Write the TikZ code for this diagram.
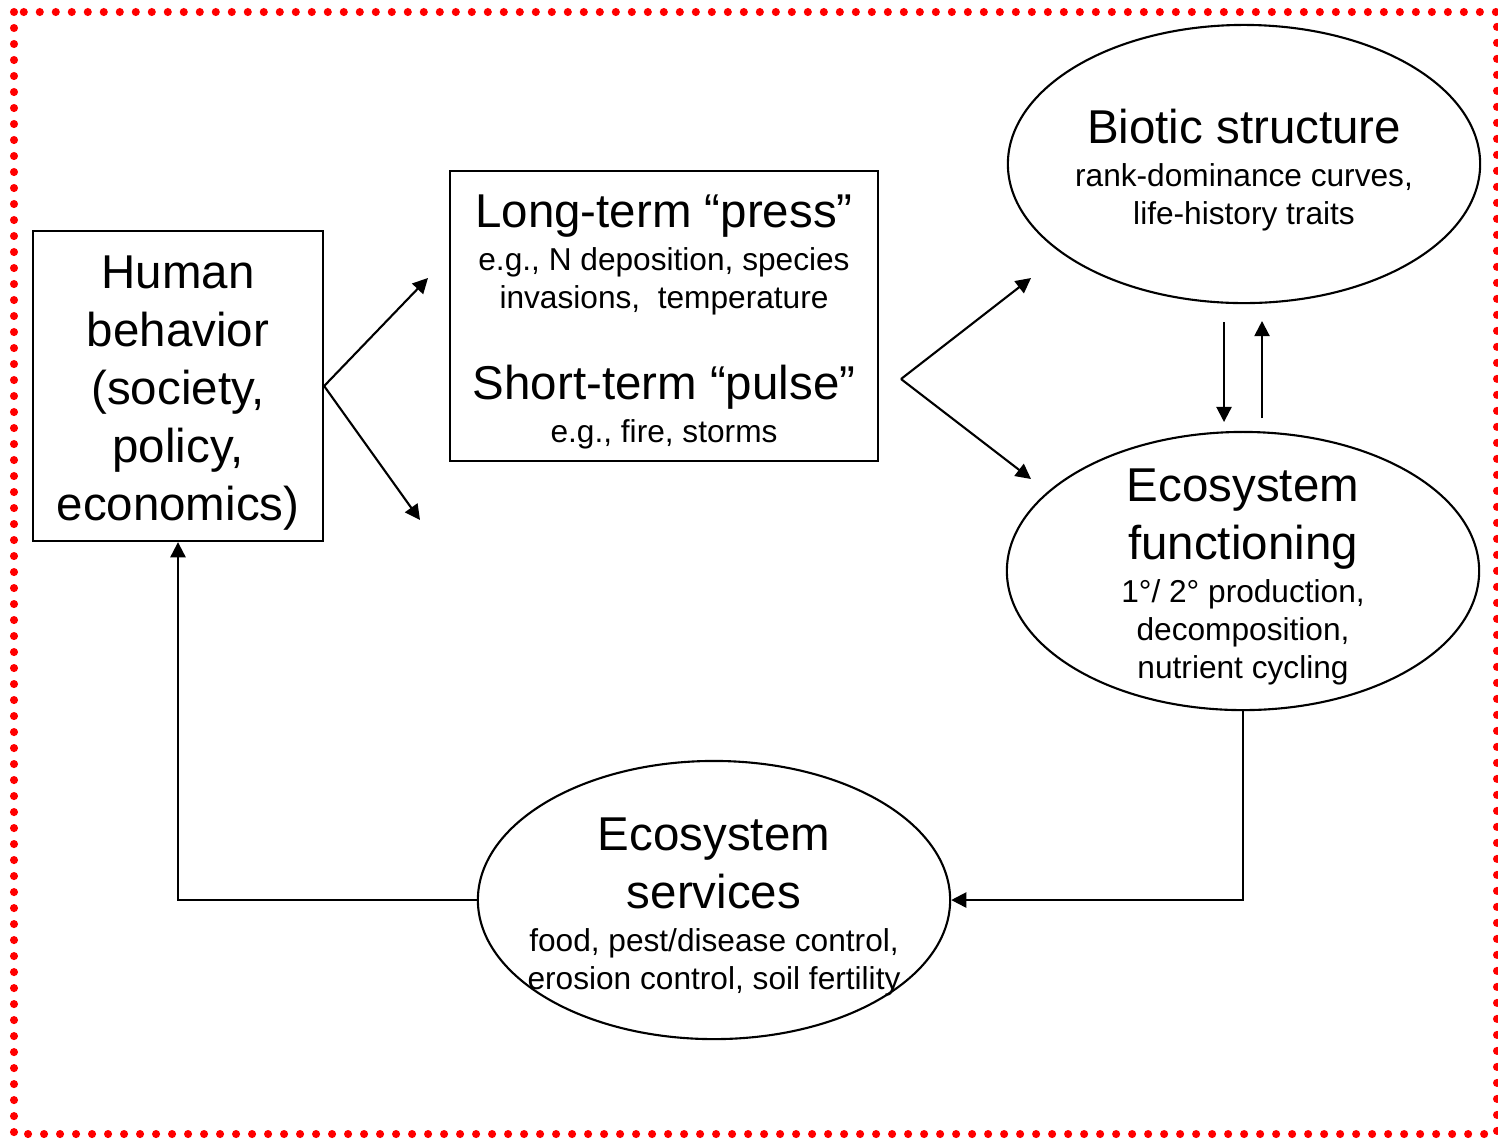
\documentclass[tikz,border=0pt]{standalone}
\usepackage{fontspec}
\setmainfont{Liberation Sans}
\usetikzlibrary{arrows.meta,shapes.geometric}

\newcommand{\bigtxt}{\fontsize{13.5}{16.5}\selectfont}
\newcommand{\smtxt}{\fontsize{9}{10.8}\selectfont}

\begin{document}
\begin{tikzpicture}[x=0.01cm, y=-0.01cm,
  box/.style={draw, line width=0.6pt, inner sep=0pt},
  oval/.style={draw, ellipse, line width=0.6pt, inner sep=0pt,
    minimum width=4.72cm, minimum height=2.78cm},
  txt/.style={align=flush center, text width=4.6cm, inner sep=0pt},
  arr/.style={line width=0.6pt, -{Triangle[length=4.3pt,width=4.3pt]}}]
  \useasboundingbox (0,0) rectangle (1498,1138);

  % dotted red frame
  \draw[red, line width=2.3pt, line cap=round, dash pattern=on 0pt off 4.55pt]
    (14,12) rectangle (1497,1134);

  % boxes
  \node[box, minimum width=2.9cm, minimum height=3.1cm] (human) at (178,386) {};
  \node[txt, text width=2.8cm, yshift=-0.07cm, font=\bigtxt] at (human)
    {Human\\behavior\\(society,\\policy,\\economics)};
  \node[box, minimum width=4.28cm, minimum height=2.9cm] (drivers) at (664,316) {};
  \node[txt, text width=4.2cm, yshift=-0.06cm] at (drivers)
    {{\bigtxt Long-term “press”\par}\vspace{1.4pt}
     {\smtxt e.g., N deposition, species\\invasions,~ temperature\par}
     \vspace{9.2pt}
     {\bigtxt Short-term “pulse”\par}\vspace{1.4pt}
     {\smtxt e.g., fire, storms\par}};

  % ellipses
  \node[oval] (biotic) at (1244,164) {};
  \node[txt, yshift=-0.065cm] at (biotic) {{\bigtxt Biotic structure\par}\vspace{1.4pt}
    {\smtxt rank-dominance curves,\\life-history traits\par}};
  \node[oval] (func) at (1243,571) {};
  \node[txt, yshift=-0.06cm] at (func) {{\bigtxt Ecosystem\\functioning\par}\vspace{1.4pt}
    {\smtxt 1°/ 2° production,\\decomposition,\\nutrient cycling\par}};
  \node[oval] (serv) at (714,900) {};
  \node[txt, yshift=-0.07cm] at (serv) {{\bigtxt Ecosystem\\services\par}\vspace{1.4pt}
    {\smtxt food, pest/disease control,\\erosion control, soil fertility\par}};

  % free arrow ends
  \coordinate (hp) at (428,278);
  \coordinate (hq) at (420,520);
  \coordinate (fork) at (901,379);
  \coordinate (fb) at (1031,278);
  \coordinate (ff) at (1031,479);
  \coordinate (d1) at (1224,322);
  \coordinate (d2) at (1224,422);
  \coordinate (u1) at (1262,418);
  \coordinate (u2) at (1262,321);

  % arrows
  \draw[arr] (human.east) -- (hp);
  \draw[arr] (human.east) -- (hq);
  \draw[arr] (fork) -- (fb);
  \draw[arr] (fork) -- (ff);
  \draw[arr] (d1) -- (d2);
  \draw[arr] (u1) -- (u2);
  \draw[arr] (func.south) |- (serv.east);
  \draw[arr] (serv.west) -| (human.south);
\end{tikzpicture}
\end{document}
